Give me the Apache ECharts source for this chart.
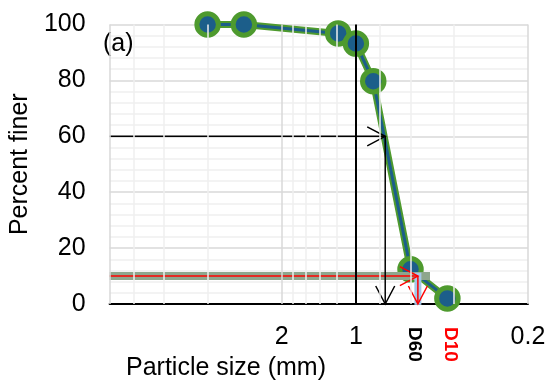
<!DOCTYPE html>
<html>
<head>
<meta charset="utf-8">
<script src="https://cdn.jsdelivr.net/npm/echarts@6/dist/echarts.min.js"></script>
<style>
  html, body { margin: 0; padding: 0; background: #fff; }
  #chart { width: 549px; height: 382px; }
</style>
</head>
<body>
<div id="chart"></div>
<script>
// Sieve analysis: particle size (mm) vs. percent finer
const sizes = [4.0, 2.85, 1.18, 1.0, 0.85, 0.6, 0.425];
const finer = [100, 100, 96.8, 93.2, 79.7, 12.4, 2.0];

// Axis ticks and gridlines on the log size axis
const xTickValues = [2, 1, 0.2];
const xTickLabels = ['2', '1', '0.2'];
const gridMajorX = [10, 2, 0.2];
const gridMinorX = [8, 6, 4, 1.8, 1.6, 1.4, 1.2, 0.8, 0.6, 0.4];

// Characteristic diameters
const d60 = 0.76;
const d10 = 0.56;
const d10BandEnd = 0.5;
const dLabelText = ['D60', 'D10'];
const dLabelAt = [0.578, 0.415];
const dLabelColor = ['#000000', '#ff0000'];

const FONT = 'Liberation Sans, Arial, sans-serif';
const GREEN = '#4e9a2e';
const BLUE = '#1c5e8a';

// Annotation shapes (data coordinates)
const overlays = [
  { pts: [[10, 10], [d10BandEnd, 10]], color: '#8ea68d', width: 8, arrow: false },
  { pts: [[d10, 11.2], [d10, -0.3]], color: '#a4c8e8', width: 7, arrow: false },
  { pts: [[10, 10], [d10, 10]], color: '#ff0000', width: 1.5, arrow: true },
  { pts: [[d10, 10], [d10, 0]], color: '#ff0000', width: 1.5, arrow: true },
  { pts: [[10, 60], [d60, 60]], color: '#000000', width: 1.5, arrow: true },
  { pts: [[d60, 60], [d60, 0]], color: '#000000', width: 1.5, arrow: true }
];

function renderOverlay(params, api) {
  const s = overlays[params.dataIndex];
  const p = s.pts.map(function (q) { return api.coord(q); });
  const children = [{
    type: 'polyline',
    shape: { points: p },
    style: { stroke: s.color, lineWidth: s.width, fill: null }
  }];
  if (s.arrow) {
    const a = p[p.length - 2], b = p[p.length - 1];
    const dx = b[0] - a[0], dy = b[1] - a[1];
    const len = Math.sqrt(dx * dx + dy * dy);
    const ux = dx / len, uy = dy / len;
    const nx = -uy, ny = ux;
    const L = 18, W = 9.5;
    children.push({
      type: 'polyline',
      shape: { points: [
        [b[0] - ux * L + nx * W, b[1] - uy * L + ny * W],
        b,
        [b[0] - ux * L - nx * W, b[1] - uy * L - ny * W]
      ] },
      style: { stroke: s.color, lineWidth: s.width, fill: null }
    });
  }
  return { type: 'group', children: children };
}

const points = sizes.map(function (v, i) { return [v, finer[i]]; });

const chart = echarts.init(document.getElementById('chart'), null, { renderer: 'canvas' });

const option = {
  animation: false,
  backgroundColor: '#ffffff',
  grid: { left: 99, right: 21, top: 24.5, bottom: 78, containLabel: false },
  xAxis: {
    type: 'log',
    logBase: 10,
    min: 0.2,
    max: 10,
    inverse: true,
    axisLine: { show: true, onZero: false, lineStyle: { color: '#000', width: 2 } },
    axisTick: { show: false },
    axisLabel: { show: false },
    splitLine: { show: false }
  },
  yAxis: {
    type: 'value',
    min: 0,
    max: 100,
    interval: 20,
    name: 'Percent finer',
    nameLocation: 'middle',
    nameRotate: 90,
    nameGap: 66,
    nameTextStyle: { fontFamily: FONT, fontSize: 25, color: '#000' },
    axisLine: { show: false },
    axisTick: { show: false },
    axisLabel: { fontFamily: FONT, fontSize: 25, color: '#000', margin: 24 },
    splitLine: { lineStyle: { color: '#d9d9d9', width: 1.5 } },
    minorTick: { show: false, splitNumber: 5 },
    minorSplitLine: { show: true, lineStyle: { color: '#efefef', width: 1.5 } }
  },
  series: [
    {
      name: 'grid',
      type: 'line',
      data: [],
      z: 1,
      silent: true,
      markLine: {
        silent: true,
        symbol: ['none', 'none'],
        label: { show: false },
        animation: false,
        data: gridMinorX.map(function (v) {
          return { xAxis: v, lineStyle: { color: '#efefef', width: 1.5, type: 'solid' } };
        }).concat(gridMajorX.map(function (v) {
          return { xAxis: v, lineStyle: { color: '#d9d9d9', width: 1.5, type: 'solid' } };
        })).concat([
          { xAxis: 1, lineStyle: { color: '#000000', width: 2, type: 'solid' } }
        ])
      }
    },
    {
      name: 'outline',
      type: 'line',
      data: points,
      z: 2,
      showSymbol: false,
      lineStyle: { color: GREEN, width: 7, join: 'round' },
      silent: true
    },
    {
      name: 'Percent finer',
      type: 'line',
      data: points,
      z: 3,
      symbol: 'circle',
      symbolSize: 21.5,
      lineStyle: { color: BLUE, width: 3, join: 'round' },
      itemStyle: { color: BLUE, borderColor: GREEN, borderWidth: 5 },
      silent: true
    },
    {
      name: 'annotations',
      type: 'custom',
      z: 4,
      silent: true,
      renderItem: renderOverlay,
      data: overlays.map(function (s) { return [s.pts[0][0], s.pts[0][1]]; })
    }
  ]
};

chart.setOption(option);

// Text placed from the axis scale
const graphics = [];
xTickValues.forEach(function (v, i) {
  const p = chart.convertToPixel({ gridIndex: 0 }, [v, 0]);
  graphics.push({
    type: 'text', x: p[0], y: p[1] + 33,
    style: { text: xTickLabels[i], font: '25px ' + FONT, fill: '#000', align: 'center', verticalAlign: 'middle' }
  });
});
dLabelAt.forEach(function (v, i) {
  const p = chart.convertToPixel({ gridIndex: 0 }, [v, 0]);
  graphics.push({
    type: 'text', x: p[0], y: p[1] + 40.5, rotation: -Math.PI / 2,
    style: { text: dLabelText[i], font: 'bold 19px ' + FONT, fill: dLabelColor[i], align: 'center', verticalAlign: 'middle' }
  });
});
graphics.push({
  type: 'text', x: 226, y: 368,
  style: { text: 'Particle size (mm)', font: '25px ' + FONT, fill: '#000', align: 'center', verticalAlign: 'middle' }
});
graphics.push({
  type: 'text', x: 103, y: 44,
  style: { text: '(a)', font: '25px ' + FONT, fill: '#000', align: 'left', verticalAlign: 'middle' }
});
chart.setOption({ graphic: graphics });
</script>
</body>
</html>
